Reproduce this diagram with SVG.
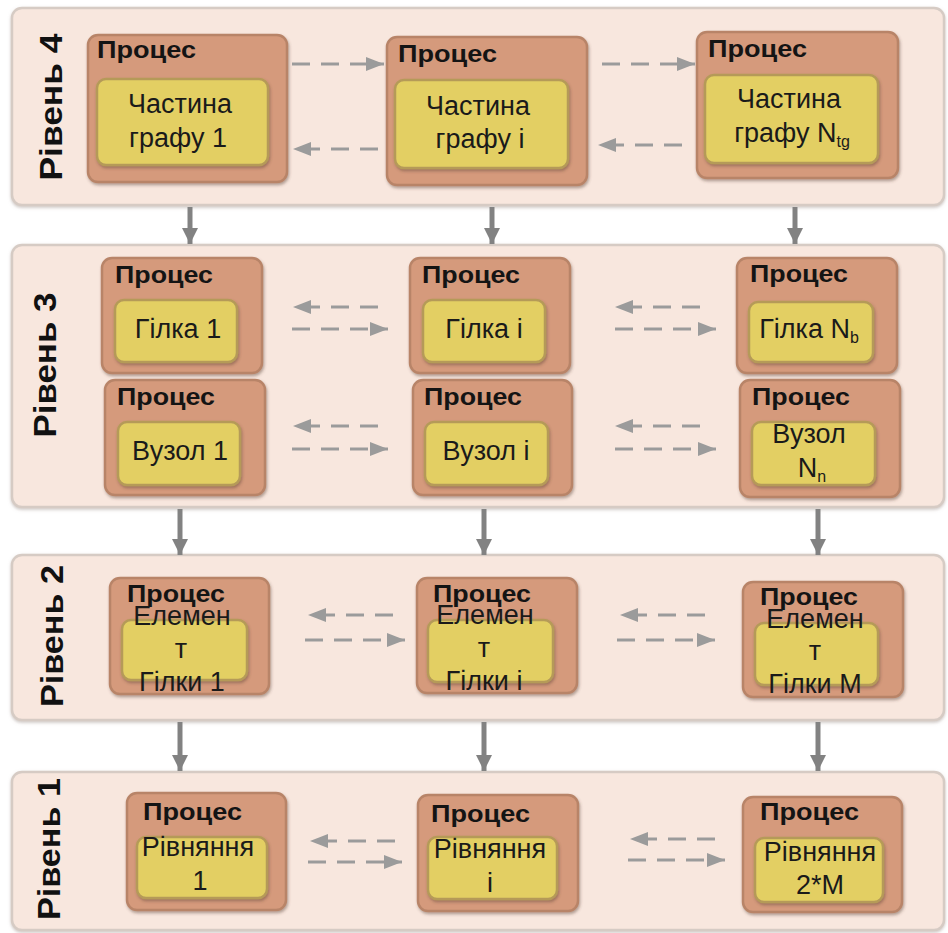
<svg xmlns="http://www.w3.org/2000/svg" width="948" height="933" viewBox="0 0 948 933">
<style>
.bg{fill:#ffffff}
.panel{fill:#f8e7de;stroke:#d6cbc4;stroke-width:2.5}
.outer{fill:#d59a7b;stroke:#b88468;stroke-width:2.5}
.inner{fill:#e3cf63;stroke:#b59a58;stroke-width:2.5}
.proc{font-family:"Liberation Sans",Arial,sans-serif;font-weight:bold;font-size:24px;fill:#141414}
.lvl{font-family:"Liberation Sans",Arial,sans-serif;font-weight:bold;font-size:31px;fill:#111}
.t{font-family:"Liberation Sans",Arial,sans-serif;font-size:27px;fill:#1a1a1a;text-anchor:middle}
.sub{font-size:16px}
.dash{stroke:#9b9b9b;stroke-width:3;stroke-dasharray:18 11;fill:none;marker-end:url(#dh)}
.vert{stroke:#828282;stroke-width:5;fill:none;marker-end:url(#vh)}
</style>
<defs>
<filter id="sh" x="-10%" y="-10%" width="120%" height="130%">
<feDropShadow dx="1" dy="2" stdDeviation="1.5" flood-color="#5a4035" flood-opacity="0.45"/>
</filter>
<filter id="psh" x="-5%" y="-10%" width="110%" height="120%">
<feDropShadow dx="0" dy="1.5" stdDeviation="1.5" flood-color="#9d8f88" flood-opacity="0.5"/>
</filter>
<marker id="dh" markerUnits="userSpaceOnUse" markerWidth="18" markerHeight="14" refX="18" refY="7" orient="auto">
<path d="M0,0 L18,7 L0,14 z" fill="#9b9b9b"/>
</marker>
<marker id="vh" markerUnits="userSpaceOnUse" markerWidth="18" markerHeight="16" refX="16" refY="8" orient="auto">
<path d="M0,0 L16,8 L0,16 z" fill="#828282"/>
</marker>
</defs>
<rect class="bg" x="0" y="0" width="948" height="933"/>

<g id="panels">
<rect id="panel4" class="panel" filter="url(#psh)" x="12" y="8" width="932" height="197" rx="10"/>
<rect id="panel3" class="panel" filter="url(#psh)" x="12" y="245" width="932" height="262" rx="10"/>
<rect id="panel2" class="panel" filter="url(#psh)" x="12" y="555" width="932" height="165" rx="10"/>
<rect id="panel1" class="panel" filter="url(#psh)" x="12" y="772" width="932" height="158" rx="10"/>
</g>

<g id="labels">
<text class="lvl" text-anchor="middle" textLength="147" lengthAdjust="spacingAndGlyphs" transform="translate(62,107) rotate(-90)">Рівень 4</text>
<text class="lvl" text-anchor="middle" textLength="145" lengthAdjust="spacingAndGlyphs" transform="translate(56,365) rotate(-90)">Рівень 3</text>
<text class="lvl" text-anchor="middle" textLength="142" lengthAdjust="spacingAndGlyphs" transform="translate(63,636) rotate(-90)">Рівень 2</text>
<text class="lvl" text-anchor="middle" textLength="142" lengthAdjust="spacingAndGlyphs" transform="translate(60,849) rotate(-90)">Рівень 1</text>
</g>

<g id="n4_1">
<rect class="outer" filter="url(#sh)" x="88" y="35" width="199" height="147" rx="10"/>
<text class="proc" x="97" y="58" textLength="99" lengthAdjust="spacingAndGlyphs">Процес</text>
<rect class="inner" filter="url(#sh)" x="97" y="79" width="171" height="86" rx="9"/>
<text class="t" x="180" y="113">Частина</text>
<text class="t" x="178" y="147">графу 1</text>
</g>
<g id="n4_i">
<rect class="outer" filter="url(#sh)" x="387" y="37" width="200" height="148" rx="10"/>
<text class="proc" x="398" y="62" textLength="99" lengthAdjust="spacingAndGlyphs">Процес</text>
<rect class="inner" filter="url(#sh)" x="395" y="80" width="173" height="88" rx="9"/>
<text class="t" x="478" y="115">Частина</text>
<text class="t" x="480" y="148">графу i</text>
</g>
<g id="n4_N">
<rect class="outer" filter="url(#sh)" x="697" y="32" width="201" height="146" rx="10"/>
<text class="proc" x="708" y="57" textLength="99" lengthAdjust="spacingAndGlyphs">Процес</text>
<rect class="inner" filter="url(#sh)" x="705" y="75" width="173" height="88" rx="9"/>
<text class="t" x="789" y="108">Частина</text>
<text class="t" x="792" y="142">графу N<tspan class="sub" dy="5">tg</tspan></text>
</g>

<g id="n3_g1">
<rect class="outer" filter="url(#sh)" x="102" y="258" width="160" height="115" rx="10"/>
<text class="proc" x="115" y="283" textLength="98" lengthAdjust="spacingAndGlyphs">Процес</text>
<rect class="inner" filter="url(#sh)" x="115" y="300" width="122" height="62" rx="9"/>
<text class="t" x="178" y="338">Гілка 1</text>
</g>
<g id="n3_v1">
<rect class="outer" filter="url(#sh)" x="105" y="380" width="160" height="115" rx="10"/>
<text class="proc" x="117" y="405" textLength="98" lengthAdjust="spacingAndGlyphs">Процес</text>
<rect class="inner" filter="url(#sh)" x="118" y="422" width="122" height="63" rx="9"/>
<text class="t" x="180" y="460">Вузол 1</text>
</g>
<g id="n3_gi">
<rect class="outer" filter="url(#sh)" x="410" y="258" width="160" height="115" rx="10"/>
<text class="proc" x="422" y="283" textLength="98" lengthAdjust="spacingAndGlyphs">Процес</text>
<rect class="inner" filter="url(#sh)" x="423" y="300" width="122" height="62" rx="9"/>
<text class="t" x="484" y="338">Гілка i</text>
</g>
<g id="n3_vi">
<rect class="outer" filter="url(#sh)" x="413" y="380" width="159" height="115" rx="10"/>
<text class="proc" x="424" y="405" textLength="98" lengthAdjust="spacingAndGlyphs">Процес</text>
<rect class="inner" filter="url(#sh)" x="425" y="422" width="123" height="63" rx="9"/>
<text class="t" x="486" y="460">Вузол i</text>
</g>
<g id="n3_gN">
<rect class="outer" filter="url(#sh)" x="737" y="258" width="160" height="115" rx="10"/>
<text class="proc" x="750" y="282" textLength="98" lengthAdjust="spacingAndGlyphs">Процес</text>
<rect class="inner" filter="url(#sh)" x="749" y="302" width="124" height="60" rx="9"/>
<text class="t" x="809" y="338">Гілка N<tspan class="sub" dy="5">b</tspan></text>
</g>
<g id="n3_vN">
<rect class="outer" filter="url(#sh)" x="740" y="380" width="160" height="117" rx="10"/>
<text class="proc" x="752" y="405" textLength="98" lengthAdjust="spacingAndGlyphs">Процес</text>
<rect class="inner" filter="url(#sh)" x="752" y="422" width="123" height="63" rx="9"/>
<text class="t" x="809" y="443">Вузол</text>
<text class="t" x="812" y="477">N<tspan class="sub" dy="5">n</tspan></text>
</g>

<g id="n2_1">
<rect class="outer" filter="url(#sh)" x="110" y="578" width="159" height="116" rx="10"/>
<text class="proc" x="127" y="602" textLength="98" lengthAdjust="spacingAndGlyphs">Процес</text>
<rect class="inner" filter="url(#sh)" x="122" y="620" width="125" height="60" rx="9"/>
<text class="t" x="182" y="625">Елемен</text>
<text class="t" x="181" y="658">т</text>
<text class="t" x="182" y="691">Гілки 1</text>
</g>
<g id="n2_i">
<rect class="outer" filter="url(#sh)" x="417" y="578" width="160" height="115" rx="10"/>
<text class="proc" x="433" y="602" textLength="98" lengthAdjust="spacingAndGlyphs">Процес</text>
<rect class="inner" filter="url(#sh)" x="428" y="620" width="125" height="62" rx="9"/>
<text class="t" x="485" y="624">Елемен</text>
<text class="t" x="484" y="657">т</text>
<text class="t" x="484" y="690">Гілки i</text>
</g>
<g id="n2_M">
<rect class="outer" filter="url(#sh)" x="743" y="582" width="160" height="115" rx="10"/>
<text class="proc" x="760" y="605" textLength="98" lengthAdjust="spacingAndGlyphs">Процес</text>
<rect class="inner" filter="url(#sh)" x="755" y="623" width="123" height="62" rx="9"/>
<text class="t" x="815" y="628">Елемен</text>
<text class="t" x="815" y="660">т</text>
<text class="t" x="815" y="693">Гілки M</text>
</g>

<g id="n1_1">
<rect class="outer" filter="url(#sh)" x="127" y="793" width="159" height="117" rx="10"/>
<text class="proc" x="143" y="820" textLength="99" lengthAdjust="spacingAndGlyphs">Процес</text>
<rect class="inner" filter="url(#sh)" x="137" y="837" width="130" height="61" rx="9"/>
<text class="t" x="198" y="856">Рівняння</text>
<text class="t" x="200" y="890">1</text>
</g>
<g id="n1_i">
<rect class="outer" filter="url(#sh)" x="418" y="795" width="160" height="116" rx="10"/>
<text class="proc" x="431" y="822" textLength="99" lengthAdjust="spacingAndGlyphs">Процес</text>
<rect class="inner" filter="url(#sh)" x="428" y="837" width="129" height="62" rx="9"/>
<text class="t" x="490" y="858">Рівняння</text>
<text class="t" x="490" y="892">i</text>
</g>
<g id="n1_M">
<rect class="outer" filter="url(#sh)" x="743" y="797" width="159" height="115" rx="10"/>
<text class="proc" x="760" y="820" textLength="99" lengthAdjust="spacingAndGlyphs">Процес</text>
<rect class="inner" filter="url(#sh)" x="755" y="838" width="128" height="64" rx="9"/>
<text class="t" x="820" y="861">Рівняння</text>
<text class="t" x="820" y="894">2*M</text>
</g>

<g id="connectors">
<line class="dash" x1="292" y1="64" x2="384" y2="64"/>
<line class="dash" x1="378" y1="149" x2="293" y2="149"/>
<line class="dash" x1="602" y1="64" x2="695" y2="64"/>
<line class="dash" x1="682" y1="145" x2="598" y2="145"/>

<line class="dash" x1="378" y1="307" x2="293" y2="307"/>
<line class="dash" x1="292" y1="329" x2="388" y2="329"/>
<line class="dash" x1="700" y1="307" x2="615" y2="307"/>
<line class="dash" x1="615" y1="329" x2="716" y2="329"/>
<line class="dash" x1="378" y1="426" x2="293" y2="426"/>
<line class="dash" x1="292" y1="449" x2="388" y2="449"/>
<line class="dash" x1="700" y1="426" x2="615" y2="426"/>
<line class="dash" x1="615" y1="449" x2="716" y2="449"/>

<line class="dash" x1="393" y1="615" x2="308" y2="615"/>
<line class="dash" x1="305" y1="640" x2="405" y2="640"/>
<line class="dash" x1="705" y1="615" x2="620" y2="615"/>
<line class="dash" x1="617" y1="640" x2="715" y2="640"/>

<line class="dash" x1="395" y1="841" x2="310" y2="841"/>
<line class="dash" x1="308" y1="862" x2="402" y2="862"/>
<line class="dash" x1="715" y1="839" x2="630" y2="839"/>
<line class="dash" x1="628" y1="860" x2="725" y2="860"/>

<line class="vert" x1="190" y1="207" x2="190" y2="244"/>
<line class="vert" x1="492" y1="207" x2="492" y2="244"/>
<line class="vert" x1="795" y1="207" x2="795" y2="244"/>
<line class="vert" x1="180" y1="509" x2="180" y2="555"/>
<line class="vert" x1="484" y1="509" x2="484" y2="555"/>
<line class="vert" x1="818" y1="509" x2="818" y2="555"/>
<line class="vert" x1="180" y1="722" x2="180" y2="771"/>
<line class="vert" x1="484" y1="722" x2="484" y2="771"/>
<line class="vert" x1="818" y1="722" x2="818" y2="771"/>
</g>
</svg>
